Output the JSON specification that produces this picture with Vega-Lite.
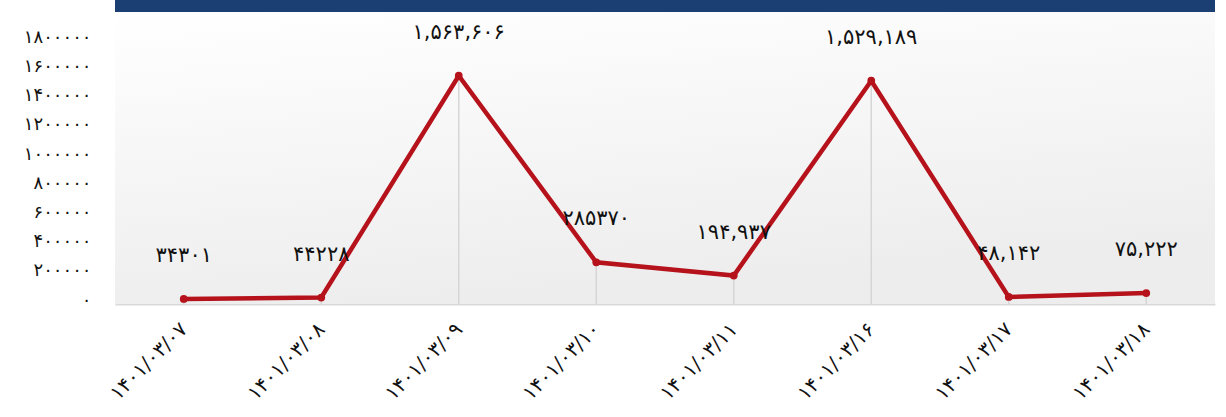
{
  "$schema": "https://vega.github.io/schema/vega-lite/v6.json",
  "width": 1100,
  "height": 292,
  "autosize": {"type": "none"},
  "padding": {"left": 115, "top": 12, "right": 11, "bottom": 113},
  "background": "white",
  "config": {"view": {"stroke": null}, "font": "DejaVu Sans"},
  "datasets": {
    "main": [
      {"date": "۱۴۰۱/۰۳/۰۷", "value": 34301, "label": "۳۴۳۰۱"},
      {"date": "۱۴۰۱/۰۳/۰۸", "value": 44228, "label": "۴۴۲۲۸"},
      {"date": "۱۴۰۱/۰۳/۰۹", "value": 1563606, "label": "۱,۵۶۳,۶۰۶"},
      {"date": "۱۴۰۱/۰۳/۱۰", "value": 285370, "label": "۲۸۵۳۷۰"},
      {"date": "۱۴۰۱/۰۳/۱۱", "value": 194937, "label": "۱۹۴,۹۳۷"},
      {"date": "۱۴۰۱/۰۳/۱۶", "value": 1529189, "label": "۱,۵۲۹,۱۸۹"},
      {"date": "۱۴۰۱/۰۳/۱۷", "value": 48142, "label": "۴۸,۱۴۲"},
      {"date": "۱۴۰۱/۰۳/۱۸", "value": 75222, "label": "۷۵,۲۲۲"}
    ],
    "frame": [{"lo": 0, "hi": 1, "top": 1.042}]
  },
  "layer": [
    {
      "data": {"name": "frame"},
      "encoding": {
        "y": {"field": "lo", "type": "quantitative", "scale": {"domain": [0, 1]}, "axis": null}
      },
      "layer": [
        {
          "mark": {"type": "rect", "fill": {"gradient": "linear", "x1": 0, "y1": 0, "x2": 0.3, "y2": 1, "stops": [{"offset": 0, "color": "#ffffff"}, {"offset": 1, "color": "#ededed"}]}},
          "encoding": {"y2": {"field": "hi"}}
        },
        {
          "mark": {"type": "rect", "color": "#1b3f73", "clip": false},
          "encoding": {"y": {"field": "hi", "type": "quantitative", "axis": null}, "y2": {"field": "top"}}
        }
      ]
    },
    {
      "data": {"name": "main"},
      "encoding": {
        "x": {
          "field": "date", "type": "ordinal", "sort": null,
          "scale": {"type": "point", "padding": 0.5},
          "axis": {"labelAngle": -45, "labelAlign": "right", "labelBaseline": "middle", "ticks": false, "domainColor": "#d9d9d9", "domainWidth": 2, "grid": false, "title": null, "labelFontSize": 20, "labelColor": "#111111", "labelPadding": 22, "labelOverlap": false}
        },
        "y": {
          "field": "value", "type": "quantitative", "scale": {"domain": [0, 2000000]},
          "axis": {
            "orient": "left",
            "values": [0, 200000, 400000, 600000, 800000, 1000000, 1200000, 1400000, 1600000, 1800000],
            "format": "d",
            "labelExpr": "replace(replace(replace(replace(replace(replace(replace(replace(replace(replace(datum.label, regexp('0','g'), '۰'), regexp('1','g'), '۱'), regexp('2','g'), '۲'), regexp('3','g'), '۳'), regexp('4','g'), '۴'), regexp('5','g'), '۵'), regexp('6','g'), '۶'), regexp('7','g'), '۷'), regexp('8','g'), '۸'), regexp('9','g'), '۹')",
            "domain": false, "ticks": false, "grid": false, "labelPadding": 24, "labelFontSize": 18, "labelOffset": -4, "labelColor": "#111111", "labelOverlap": false, "title": null
          }
        }
      },
      "layer": [
        {
          "mark": {"type": "rule", "color": "#d6d6d6", "strokeWidth": 1.5},
          "encoding": {"y2": {"datum": 0}}
        },
        {
          "mark": {"type": "line", "color": "#b5121b", "strokeWidth": 4.5},
          "encoding": {}
        },
        {
          "mark": {"type": "circle", "color": "#b5121b", "size": 60, "opacity": 1}
        },
        {
          "mark": {"type": "text", "dy": -43, "fontSize": 21, "color": "#111111"},
          "encoding": {"text": {"field": "label"}}
        }
      ]
    }
  ],
  "resolve": {"scale": {"y": "independent"}, "axis": {"y": "independent"}}
}
